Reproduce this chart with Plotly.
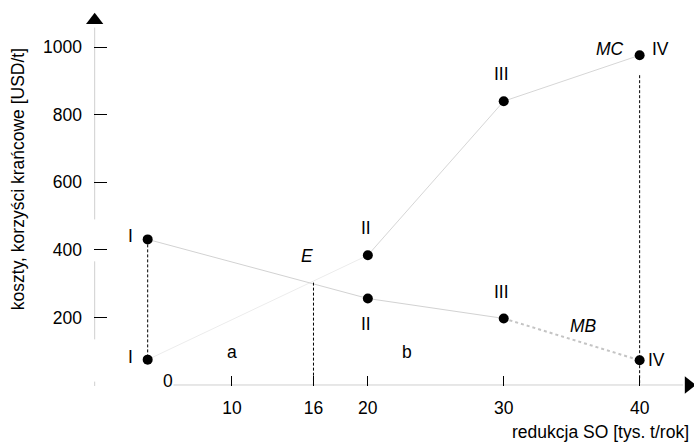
import plotly.graph_objects as go

# ---- data ----
point_x = [3.8, 20, 30, 40]
point_labels = ["I", "II", "III", "IV"]
mc_values = [75, 384, 840, 976]
mb_values = [431, 256, 197, 73]
e_x = 16
e_y = 303
x_tick_vals = [10, 16, 20, 30, 40]
x_tick_text = ["10", "16", "20", "30", "40"]
y_tick_vals = [200, 400, 600, 800, 1000]
y_tick_text = ["200", "400", "600", "800", "1000"]
ivline_top = 917

FONT = "Liberation Sans, Arial, sans-serif"
fs = 17.5

fig = go.Figure()

# axes decorations
fig.add_trace(go.Scatter(x=[-0.1, -0.1, None, -0.1, -0.1, None, -0.1, -0.1],
                         y=[1058, 490, None, 366, 135, None, 10, -3],
                         mode="lines", line=dict(color="#cfcfcf", width=1),
                         hoverinfo="skip", showlegend=False))
fig.add_trace(go.Scatter(x=[5.7, 43.2], y=[0, 0], mode="lines",
                         line=dict(color="#cfcfcf", width=1),
                         hoverinfo="skip", showlegend=False))
fig.add_trace(go.Scatter(x=[-0.1], y=[1080], mode="markers",
                         marker=dict(symbol="triangle-up", size=15, color="black"),
                         cliponaxis=False, hoverinfo="skip", showlegend=False))
fig.add_trace(go.Scatter(x=[43.6], y=[0], mode="markers",
                         marker=dict(symbol="triangle-right", size=15, color="black"),
                         cliponaxis=False, hoverinfo="skip", showlegend=False))

# MC curve segments
fig.add_trace(go.Scatter(x=point_x[0:2], y=mc_values[0:2], mode="lines",
                         line=dict(color="#ececec", width=1), showlegend=False))
fig.add_trace(go.Scatter(x=point_x[1:4], y=mc_values[1:4], mode="lines",
                         line=dict(color="#d6d6d6", width=1), showlegend=False))
# MB curve segments
fig.add_trace(go.Scatter(x=point_x[0:3], y=mb_values[0:3], mode="lines",
                         line=dict(color="#d2d2d2", width=1), showlegend=False))
fig.add_trace(go.Scatter(x=point_x[2:4], y=mb_values[2:4], mode="lines",
                         line=dict(color="#c4c4c4", width=2, dash="dot"), showlegend=False))

# dashed verticals
dl = dict(color="black", width=1, dash="3px,2px")
fig.add_trace(go.Scatter(x=[point_x[0], point_x[0]], y=[mb_values[0], mc_values[0]],
                         mode="lines", line=dl, showlegend=False))
fig.add_trace(go.Scatter(x=[e_x, e_x], y=[e_y, 0], mode="lines", line=dl, showlegend=False))
fig.add_trace(go.Scatter(x=[point_x[3], point_x[3]], y=[ivline_top, 0], mode="lines",
                         line=dl, showlegend=False))

# points
fig.add_trace(go.Scatter(x=point_x, y=mc_values, mode="markers",
                         marker=dict(color="black", size=10), cliponaxis=False, showlegend=False))
fig.add_trace(go.Scatter(x=point_x, y=mb_values, mode="markers",
                         marker=dict(color="black", size=10), cliponaxis=False, showlegend=False))

def ann(x, y, text, xshift=0, yshift=0, italic=False, size=fs, xanchor="center"):
    fig.add_annotation(x=x, y=y, text=f"<i>{text}</i>" if italic else text,
                       showarrow=False, xshift=xshift, yshift=yshift, xanchor=xanchor,
                       yanchor="middle",
                       font=dict(family=FONT, size=size, color="black"))

# point labels
ann(point_x[0], mc_values[0], point_labels[0], xshift=-17, yshift=3)
ann(point_x[0], mb_values[0], point_labels[0], xshift=-17, yshift=3)
ann(point_x[1], mc_values[1], point_labels[1], xshift=-2, yshift=27)
ann(point_x[1], mb_values[1], point_labels[1], xshift=-2, yshift=-25)
ann(point_x[2], mc_values[2], point_labels[2], xshift=-2, yshift=27)
ann(point_x[2], mb_values[2], point_labels[2], xshift=-2, yshift=26)
ann(point_x[3], mc_values[3], point_labels[3], xshift=21, yshift=6)
ann(point_x[3], mb_values[3], point_labels[3], xshift=17, yshift=0)
ann(37.8, 976, "MC", italic=True, yshift=6)
ann(35.9, 175, "MB", italic=True)
ann(e_x, e_y, "E", italic=True, xshift=-6, yshift=27)
ann(5.3, 0, "0", yshift=4)
ann(10, 99, "a")
ann(22.9, 99, "b")

fig.update_layout(
    width=694, height=442,
    margin=dict(l=94, r=0, t=10, b=56),
    plot_bgcolor="white", paper_bgcolor="white",
    showlegend=False,
    font=dict(family=FONT, size=fs, color="black"),
    xaxis=dict(range=[-0.15, 44.0], showgrid=False, zeroline=False, showline=False,
               automargin=False,
               tickmode="array", tickvals=x_tick_vals, ticktext=x_tick_text,
               ticks="inside", ticklen=10, tickcolor="black", tickwidth=1,
               ticklabelstandoff=9,
               tickfont=dict(family=FONT, size=fs)),
    yaxis=dict(range=[-3, 1110], showgrid=False, zeroline=False, showline=False,
               automargin=False,
               tickmode="array", tickvals=y_tick_vals, ticktext=y_tick_text,
               ticks="inside", ticklen=13, tickcolor="black", tickwidth=1,
               ticklabelstandoff=11,
               tickfont=dict(family=FONT, size=fs)),
)

fig.add_annotation(x=1, xref="paper", xanchor="right", xshift=-3,
                   y=0, yref="paper", yanchor="top", yshift=-34,
                   text="redukcja SO [tys. t/rok]", showarrow=False,
                   font=dict(family=FONT, size=fs))
fig.add_annotation(x=0, xref="paper", xanchor="center", xshift=-76,
                   y=0.55, yref="paper", yanchor="middle",
                   text="koszty, korzyści krańcowe [USD/t]", textangle=-90,
                   showarrow=False, font=dict(family=FONT, size=fs))

fig.write_html("out.html", config={"displayModeBar": False},
               post_script="document.body.style.margin='0';")
